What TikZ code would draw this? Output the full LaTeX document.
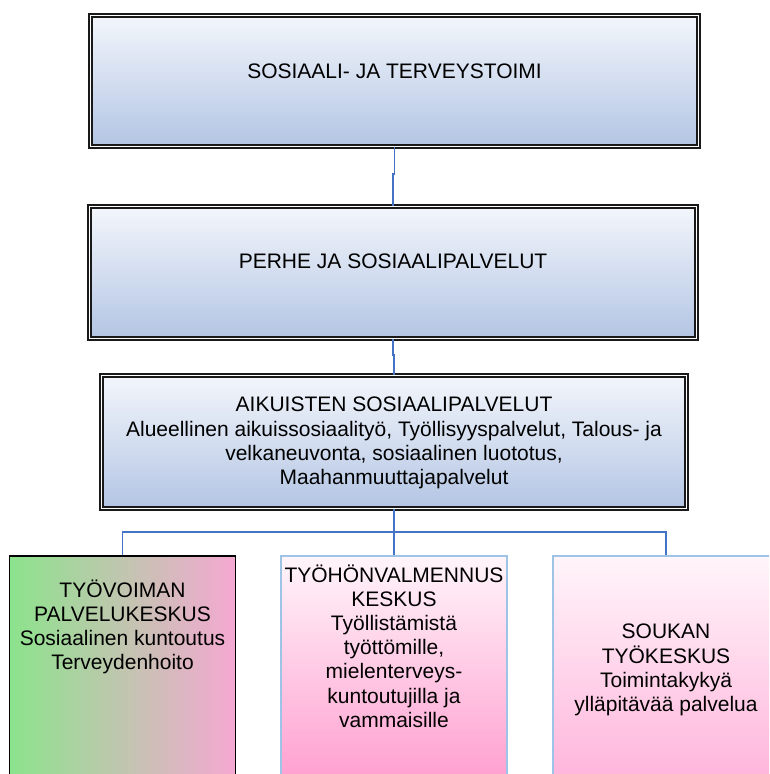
\documentclass[tikz,border=0pt]{standalone}
\usepackage{fontspec}
\setmainfont{Liberation Sans}
\usetikzlibrary{positioning}
\definecolor{orgtop}{HTML}{F3F6FB}
\definecolor{orgbottom}{HTML}{B3C5E4}
\definecolor{linkblue}{HTML}{4472C4}
\definecolor{lightframe}{HTML}{9DC3E6}
\definecolor{leafgreen}{HTML}{8CE38C}
\definecolor{leafpink}{HTML}{F5A8D2}
\definecolor{palepink}{HTML}{FFF5FA}
\definecolor{deeppink}{HTML}{FF9CCE}
\definecolor{softpink}{HTML}{FFB2DA}
\tikzset{
  orgbox/.style={draw=black!90, line width=1.5pt, double=white, double distance=1.5pt,
    top color=orgtop, bottom color=orgbottom, inner sep=0pt},
  leafbox/.style={line width=1.5pt, inner sep=0pt, minimum width=226pt, minimum height=234pt},
  link/.style={draw=linkblue, line width=1.6pt},
  txt/.style={align=center, inner sep=0pt, font=\fontsize{21}{24.2}\selectfont}
}

\begin{document}
\begin{tikzpicture}[x=1pt,y=-1pt]
       \useasboundingbox (0,0) rectangle (769,774);
       \clip (0,0) rectangle (769,774);
       % three levels on top
       \node[orgbox, minimum width=608pt, minimum height=131pt] (hall) at (394.5,81) {};
       \node[orgbox, minimum width=607pt, minimum height=132pt] (perhe) at (393,272.5) {};
       \node[orgbox, minimum width=585pt, minimum height=133pt] (aikuis) at (394,442) {};
       \node[txt] at (394.5,71) {SOSIAALI- JA TERVEYSTOIMI};
       \node[txt] at (393,261) {PERHE JA SOSIAALIPALVELUT};
       \node[txt] at (394,443) {AIKUISTEN SOSIAALIPALVELUT\\Alueellinen aikuissosiaalityö, Työllisyyspalvelut, Talous- ja\\velkaneuvonta, sosiaalinen luototus,\\Maahanmuuttajapalvelut};
       % units below
       \node[leafbox, draw=black, left color=leafgreen, right color=leafpink] (tyovoima) at (122.5,673) {};
       \node[leafbox, draw=lightframe, top color=palepink, bottom color=deeppink] (valmennus) at (394,673) {};
       \node[leafbox, draw=lightframe, top color=palepink, bottom color=softpink] (soukka) at (666,673) {};
       \node[txt] at (122.5,627) {TYÖVOIMAN\\PALVELUKESKUS\\Sosiaalinen kuntoutus\\Terveydenhoito};
       \node[txt] at (394,646) {TYÖHÖNVALMENNUS\\KESKUS\\Työllistämistä\\työttömille,\\mielenterveys-\\kuntoutujilla ja\\vammaisille};
       \node[txt] at (666,670) {SOUKAN\\TYÖKESKUS\\Toimintakykyä\\ylläpitävää palvelua};
       % connectors
       \draw[link] (hall.south) -- ++(0,27) -| (perhe.north);
       \draw[link] (perhe.south) -- ++(0,16) -| (aikuis.north);
       \draw[link] (aikuis.south) -- ++(0,23) coordinate (hub);
       \draw[link] (hub) -- (valmennus.north);
       \draw[link] (hub) -| (tyovoima.north);
       \draw[link] (hub) -| (soukka.north);
     \end{tikzpicture}
\end{document}
